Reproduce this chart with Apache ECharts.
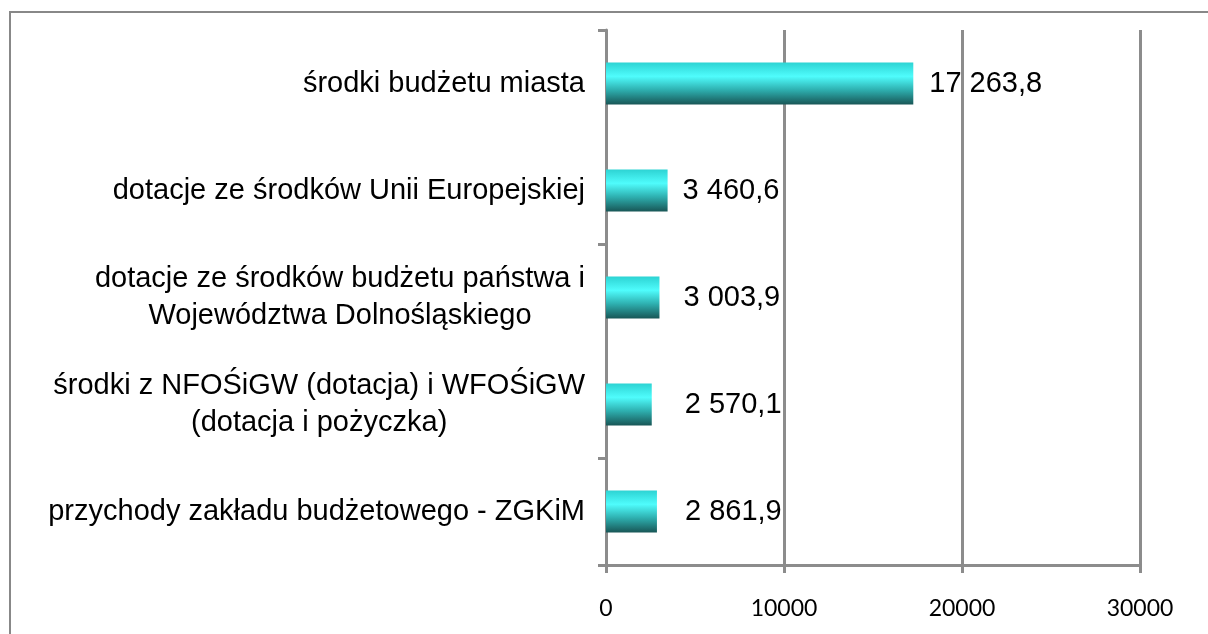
<!DOCTYPE html>
<html>
<head>
<meta charset="utf-8">
<script src="https://cdn.jsdelivr.net/npm/echarts@6/dist/echarts.min.js"></script>
<style>
html,body{margin:0;padding:0;background:#fff;}
#chart{width:1208px;height:634px;}
</style>
</head>
<body>
<div id="chart"></div>
<script>
const categories = [
  'środki budżetu miasta',
  'dotacje ze środków Unii Europejskiej',
  'dotacje ze środków budżetu państwa i\nWojewództwa Dolnośląskiego',
  'środki z NFOŚiGW (dotacja) i WFOŚiGW\n(dotacja i pożyczka)',
  'przychody zakładu budżetowego - ZGKiM'
];
const values = [17263.8, 3460.6, 3003.9, 2570.1, 2861.9];
const xMin = 0, xMax = 30000, xInterval = 10000;
const labelDistances = [16, 15, 24, 33, 28];

function fmt(v) {
  const parts = v.toFixed(1).split('.');
  return parts[0].replace(/\B(?=(\d{3})+(?!\d))/g, ' ') + ',' + parts[1];
}

const font = '"Liberation Sans", Arial, sans-serif';
const chart = echarts.init(document.getElementById('chart'), null, {renderer: 'canvas'});

chart.setOption({
  animation: false,
  backgroundColor: '#fff',
  graphic: [{
    type: 'rect',
    shape: {x: 10, y: 12, width: 1400, height: 800},
    style: {fill: 'none', stroke: '#888', lineWidth: 2},
    silent: true, z: -1
  }],
  grid: {left: 606, right: 68, top: 30, bottom: 69, containLabel: false},
  xAxis: {
    type: 'value',
    min: xMin, max: xMax, interval: xInterval,
    axisLine: {show: true, lineStyle: {color: '#8c8c8c', width: 3}},
    axisTick: {show: true, length: 8, lineStyle: {color: '#8c8c8c', width: 3}},
    splitLine: {show: true, lineStyle: {color: '#8c8c8c', width: 3}},
    axisLabel: {
      color: '#000', fontSize: 23, fontFamily: 'Lato, "Open Sans", sans-serif', margin: 32,
      formatter: function (v) { return String(v); }
    }
  },
  yAxis: {
    type: 'category',
    inverse: true,
    data: categories,
    axisLine: {show: true, lineStyle: {color: '#8c8c8c', width: 3}},
    axisTick: {show: true, length: 8, interval: 1, lineStyle: {color: '#8c8c8c', width: 3}},
    axisLabel: {
      margin: 21,
      color: '#000',
      formatter: function (v) {
        return v.split('\n').map(function (l) { return '{c|' + l + '}'; }).join('\n');
      },
      rich: {
        c: {fontSize: 29, fontFamily: font, color: '#000', align: 'center', lineHeight: 37}
      }
    }
  },
  series: [{
    type: 'bar',
    data: values.map(function (v, i) {
      return {value: v, label: {distance: labelDistances[i]}};
    }),
    barWidth: 42,
    itemStyle: {
      color: {
        type: 'linear', x: 0, y: 0, x2: 0, y2: 1,
        colorStops: [
          {offset: 0, color: '#2dd3d3'},
          {offset: 0.33, color: '#4ffcfc'},
          {offset: 0.65, color: '#2eb0b0'},
          {offset: 1, color: '#185656'}
        ]
      }
    },
    label: {
      show: true,
      position: 'right',
      color: '#000',
      fontSize: 29,
      fontFamily: font,
      formatter: function (p) { return fmt(p.value); }
    }
  }]
});
</script>
</body>
</html>
